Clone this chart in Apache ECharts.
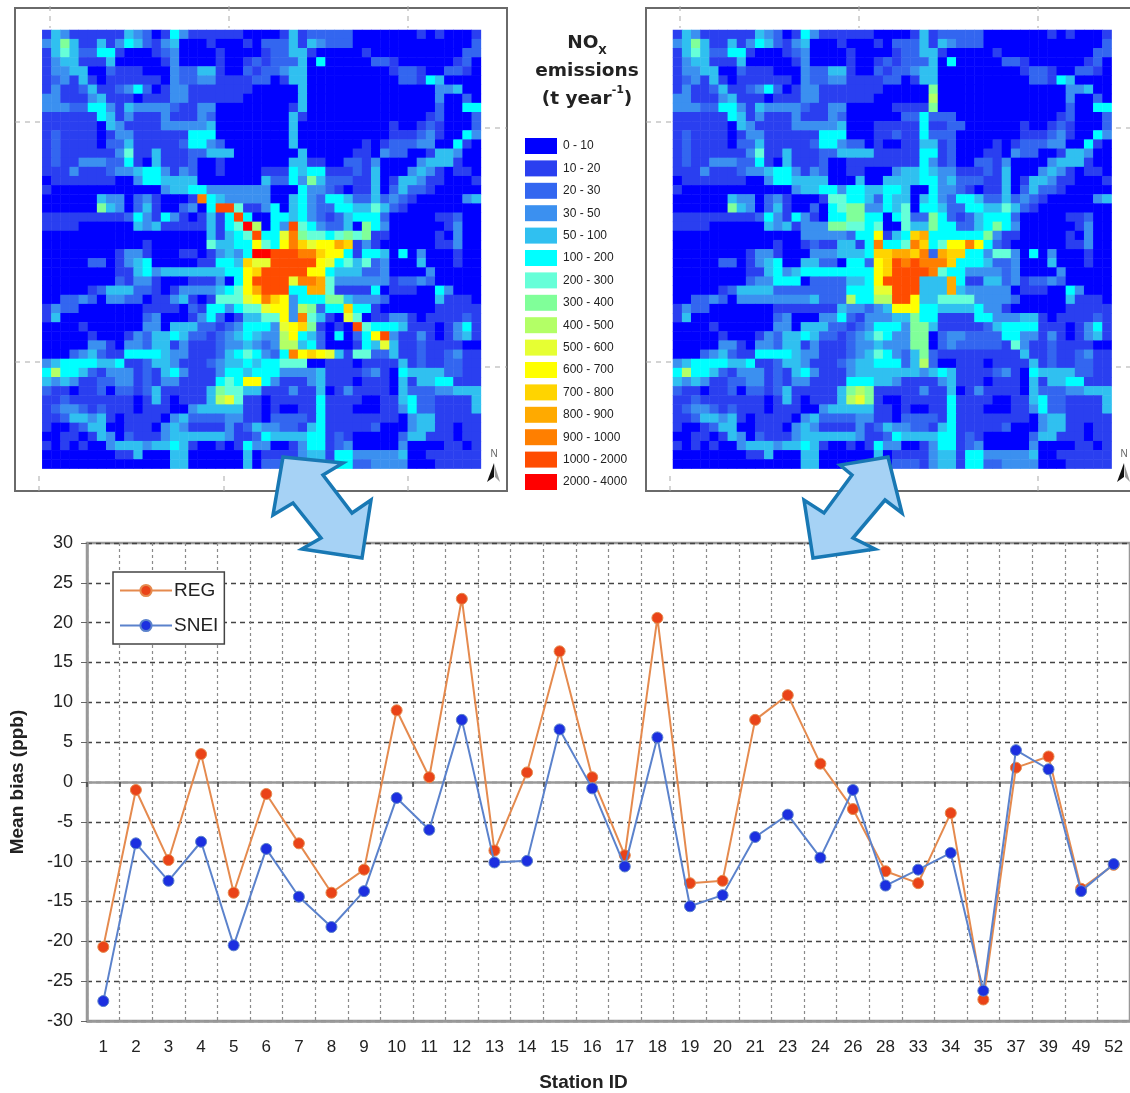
<!DOCTYPE html>
<html><head><meta charset="utf-8"><style>html,body{margin:0;padding:0;background:#fff;overflow:hidden}#c{width:1130px;height:1093px;filter:blur(0.6px)}</style>
<script src="https://cdn.jsdelivr.net/npm/echarts@6/dist/echarts.min.js"></script></head><body><div id="c"></div>
<script>
const stations=['1','2','3','4','5','6','7','8','9','10','11','12','13','14','15','16','17','18','19','20','21','23','24','26','28','33','34','35','37','39','49','52'];
const reg=[-20.7,-1.0,-9.8,3.5,-13.9,-1.5,-7.7,-13.9,-11.0,9.0,0.6,23.0,-8.6,1.2,16.4,0.6,-9.2,20.6,-12.7,-12.4,7.8,10.9,2.3,-3.4,-11.2,-12.7,-3.9,-27.3,1.8,3.2,-13.4,-10.4];
const snei=[-27.5,-7.7,-12.4,-7.5,-20.5,-8.4,-14.4,-18.2,-13.7,-2.0,-6.0,7.8,-10.1,-9.9,6.6,-0.8,-10.6,5.6,-15.6,-14.2,-6.9,-4.1,-9.5,-1.0,-13.0,-11.0,-8.9,-26.2,4.0,1.6,-13.7,-10.3];
const classLabels=['0 - 10','10 - 20','20 - 30','30 - 50','50 - 100','100 - 200','200 - 300','300 - 400','400 - 500','500 - 600','600 - 700','700 - 800','800 - 900','900 - 1000','1000 - 2000','2000 - 4000'];
const classColors=['#0000ff','#2a3ff0','#3366f0','#3b90f0','#30c0f0','#00ffff','#66ffd8','#80ff99','#b3ff66','#e6ff33','#ffff00','#ffd400','#ffaa00','#ff7f00','#ff4c00','#ff0000'];
// one hex digit per cell = emission class, rows top to bottom
const mapRegional=[
"1431111114 3201531111 1100001412 2222000000 01010001",
"3474114135 4213400010 0010222414 3222000000 00000002",
"1464225510 0012300001 0000122441 0000010000 00000022",
"1344111400 0001300001 0012122240 5000002210 00000120",
"1334400211 1000322441 0021223440 0000000012 21002210",
"1231410111 1110322331 1112201440 0000000002 21540000",
"1311241123 5201331111 1110000040 0000000000 00033400",
"3311134111 0111331111 1100000040 0000000000 00030020",
"3332255314 3333211330 0000000140 0000000000 00020055",
"1111115413 1113111320 0000000410 0000000000 00120002",
"1111110431 1113333340 0000000400 0000000010 01210002",
"1211110133 1111115550 0000000400 0000000011 12310053",
"1211110224 1111125532 0000000400 0000010122 23300510",
"1211111136 1141112244 4000000040 0000110322 00144300",
"1211333225 1041112001 0000000441 1002213000 03444100",
"1113111233 4553132001 0000111545 5111214000 34310110",
"0111111100 3554444000 0000422537 4222114014 43110001",
"1000000000 0003445533 3333300053 3210114024 22100000",
"0000004330 2310001d54 3333300453 2554224232 10000034",
"0000007430 241002305e e611350453 2255446421 00000000",
"1111111112 5315310141 5e50055453 2124555200 00011200",
"1111000000 4341111141 56f8053e65 3224075300 00001300",
"0000000000 0000000041 456e559d76 6567671100 00010300",
"0000000000 0100000064 455a65adb9 aacb131000 00011300",
"0000000013 3100011013 435ffeeedd baa5155405 03000100",
"0000022013 4500000115 54b99eeeee a956462300 04000100",
"0000000011 4534444444 55abeeeeea a544422300 00300000",
"0000000021 3310001113 05aeeee9dd c633333312 23200000",
"0000012444 2210133334 56aceee55c c611115011 10053000",
"0022320332 2011341016 669adba355 5774333200 00041110",
"1322000000 0111102155 35669aa387 255b551000 00011111",
"1400000000 0230001352 014466a3d6 4109601133 10111121",
"0000100000 0330444221 2355539ab7 1010e65554 11101351",
"0000010001 3244542212 3454338a54 205025ae31 13101341",
"0000033103 3244131112 3343238845 2000154941 12111100",
"0002342115 5554331112 4565325dab a941662241 12112311",
"3455554451 1244311123 4454556660 0111011114 12112211",
"5855421333 1214531113 5545553333 4111123105 44442211",
"4343112233 1213311115 65aa531113 4111011104 14455111",
"2110112022 1241111147 6644111311 4013111104 22233444",
"1121111111 0141011148 9611011111 5111100114 52211114",
"1233212111 0111003444 4411010011 5111000113 52211114",
"1124434101 1110342222 3311022221 5111111110 34411111",
"1001244001 1103431111 3124332214 5111112000 34411011",
"0011014302 1113444444 3112544445 5121000002 44111011",
"1010100344 4344541001 0153300135 5123000003 00001101",
"0000000011 4000440000 0040111134 4155333334 00111111",
"0000000000 0000440000 0040222134 4155223333 00011111"];
const mapSnei=[
"1431111114 3201531111 1100001412 2222000000 01010001",
"3474114135 4213400010 0010222414 3222000000 00000002",
"1464225510 0012300001 0000122441 0000010000 00000022",
"1344111400 0001300001 0012122240 5000002210 00000120",
"1334400211 1000322441 0021223440 0000000012 21002210",
"1231410111 1110322331 1112201440 0000000002 21540000",
"1311241123 5201331111 1110000070 0000000000 00033400",
"3311134111 0111331111 1100000080 0000000000 00030020",
"3332255314 3333211330 0000111170 0000000000 00020055",
"1111115413 1113111320 0000022522 2000000000 00120002",
"1111110431 1113333340 0011111511 2200000010 01210002",
"1211110133 1111115550 0011211522 2000000011 12310053",
"1211110224 1111125532 2010011441 2000010122 23300510",
"1211111136 1141112244 4411111551 2000110322 00144300",
"1211333225 1041112001 1111111531 2002213000 03444100",
"1113111233 4553132001 1000344543 3111214000 34310110",
"0111111100 3554444000 4004444553 4222114014 43110001",
"1000000000 0003445535 5445540053 3210114024 22100000",
"0000004330 2310001665 5425440453 2554224232 10000034",
"0000007430 2410020567 7335460554 2255446421 00000000",
"1111111112 5315310557 7550562275 2124555200 00011200",
"1111000000 4341333776 6560064475 5224575300 00001300",
"0000000000 0000333332 55a145bc55 5555731100 00010300",
"0000000000 0100121144 15d556db56 aada521000 00011300",
"0000000013 3100033344 45bbccbd2c bb55366305 03000100",
"0000022013 4500442205 52abededdd b555422300 04000100",
"0000000011 4534555555 55abeeeed6 5533332300 00300000",
"0000000023 3555022224 45aeeee444 c511442312 23200000",
"0000012444 4222222225 5599eee444 c433333011 10053000",
"0022320333 3333342228 5588eea446 6663333200 00041110",
"1322000000 0111111143 3234aaa554 4445331000 00011111",
"1400000000 0230003352 1333447551 1115533344 10111121",
"0000100000 0330444221 2355537741 1111245555 11101351",
"0000010001 3244542212 3465337702 3322225533 13101341",
"0000033103 3244131112 3343337702 3222221631 12111100",
"0002342115 5554331112 3465324721 1111111141 12112311",
"3455554451 1244311123 4455524820 0111011114 12112211",
"5855421333 1214531113 4444444345 4111123105 44442211",
"4343112233 1213311115 5544311113 4111011104 14455111",
"2110112022 1241111147 8711111311 4013111104 22233444",
"1121111111 0141011148 9710011111 5111100114 52211114",
"1233212111 0111003444 4411010011 5111000113 52211114",
"1124434101 1110342222 3311022221 5111111110 34411111",
"1001244001 1103431111 3124332214 5111112000 34411011",
"0011014302 1113444444 3112544445 5121000002 44111011",
"1010100344 4344541001 0153300135 5123000003 00001101",
"0000000011 4000440000 0040111134 4155333334 00111111",
"0000000000 0000440000 0040222134 4155223333 00011111"];

function cells(rows){const out=[];rows.forEach((r,y)=>{r.replace(/ /g,'').split('').forEach((ch,x)=>out.push([x,y,parseInt(ch,16)]));});return out;}
const idx=[...Array(48).keys()].map(String);
const hidden={show:false};
function catAxis(grid,inv){return {type:'category',gridIndex:grid,data:idx,inverse:!!inv,axisLine:hidden,axisTick:hidden,axisLabel:hidden,splitLine:hidden};}

const frame={stroke:'#6a6a6a',fill:'none',lineWidth:2};
const g=[];
function rect(x,y,w,h){g.push({type:'rect',shape:{x,y,width:w,height:h},style:frame,z:1});}
function dash(x1,y1,x2,y2){g.push({type:'line',shape:{x1,y1,x2,y2},style:{stroke:'#aaa',lineWidth:1,lineDash:[5,5]},z:1});}
rect(15,8,492,483);rect(646,8,500,483);
[50,229,408,680,859,1038].forEach(x=>dash(x,6,x,28));
[39,224,408,670,855,1038].forEach(x=>dash(x,491,x,474));
[122,362].forEach(y=>{dash(15,y,42,y);dash(646,y,673,y);});
[128,367].forEach(y=>{dash(485,y,507,y);dash(1116,y,1130,y);});
function north(x){
  g.push({type:'text',style:{x:x+7,y:449,text:'N',fontSize:10,fontFamily:'Liberation Sans',fill:'#666',textAlign:'center'},z:5});
  g.push({type:'polygon',shape:{points:[[x+7,463],[x+13,482],[x+8,477]]},style:{fill:'#999'},z:5});
  g.push({type:'polygon',shape:{points:[[x+7,463],[x,482],[x+7,477]]},style:{fill:'#111'},z:5});
}
north(487);north(1117);
const arrowStyle={fill:'#a6d2f5',stroke:'#1878b4',lineWidth:3.5,lineJoin:'miter'};
g.push({type:'polygon',shape:{points:[[283,457],[343,463],[323,475],[352,513],[371,500],[362,558],[302,549],[321,538],[293,503],[273,515]]},style:arrowStyle,z:10});
g.push({type:'polygon',shape:{points:[[888,457],[902,513],[885,500],[853,538],[875,549],[813,558],[804,500],[824,513],[852,475],[840,465]]},style:arrowStyle,z:10});

const option={
 animation:false,backgroundColor:'#fff',
 textStyle:{fontFamily:'Liberation Sans'},
 title:{left:582,top:24,textAlign:'center',text:'{b|NO}{s|X}\n{b|emissions}\n{b|(t year}{u|-1}{b|)}',
   textStyle:{rich:{
     b:{fontFamily:'DejaVu Sans',fontWeight:'bold',fontSize:18.5,lineHeight:28,color:'#222'},
     s:{fontFamily:'DejaVu Sans',fontWeight:'bold',fontSize:11,lineHeight:28,verticalAlign:'bottom',color:'#222'},
     u:{fontFamily:'DejaVu Sans',fontWeight:'bold',fontSize:11,lineHeight:28,verticalAlign:'top',color:'#222'}}}},
 grid:[
  {left:42.3,top:30,width:438.6,height:438.6},
  {left:673,top:30,width:438.6,height:438.6},
  {left:85,top:543,width:1046.4,height:479,show:true,borderColor:'#999',borderWidth:2.5,backgroundColor:'transparent'}],
 xAxis:[catAxis(0),catAxis(1),
  {type:'category',gridIndex:2,data:stations,position:'bottom',axisLine:{onZero:false,lineStyle:{color:'#999',width:2.5}},axisTick:hidden,
   axisLabel:{interval:0,fontSize:17,color:'#222',margin:18},
   splitLine:{show:true,interval:0,lineStyle:{color:'#8a8a8a',type:[3,3],width:1.2}},
   name:'Station ID',nameLocation:'middle',nameGap:52,nameTextStyle:{fontSize:19,fontWeight:'bold',color:'#222',padding:[0,50,0,0]}},
  {type:'category',gridIndex:2,data:stations,position:'bottom',axisLine:{onZero:true,lineStyle:{color:'#999',width:2.5}},
   axisTick:{show:true,length:5,lineStyle:{color:'#444',width:1.5}},axisLabel:hidden,splitLine:hidden}],
 yAxis:[catAxis(0,true),catAxis(1,true),
  {type:'value',gridIndex:2,min:-30,max:30,interval:5,axisLine:{show:true,onZero:false,lineStyle:{color:'#999',width:2.5}},
   axisTick:{show:true,length:6,lineStyle:{color:'#666'}},axisLabel:{fontSize:18,color:'#222',margin:14},
   splitLine:{show:true,lineStyle:{color:'#444',type:[5,4],width:1.3}},
   name:'Mean bias (ppb)',nameLocation:'middle',nameGap:60,nameTextStyle:{fontSize:19,fontWeight:'bold',color:'#222'}}],
 visualMap:{type:'piecewise',seriesIndex:[0,1],dimension:2,left:510,top:123,orient:'vertical',inverse:true,align:'left',
   itemWidth:32,itemHeight:16,itemGap:6.4,itemSymbol:'rect',textGap:6,hoverLink:false,selectedMode:false,
   textStyle:{fontSize:12,color:'#222',fontFamily:'Liberation Sans'},
   pieces:classLabels.map((label,i)=>({value:i,label,color:classColors[i]}))},
 legend:{data:['REG','SNEI'],orient:'vertical',left:113,top:572,padding:[9,6,9,6],itemGap:16,itemWidth:52,itemHeight:14,
   backgroundColor:'#fff',borderColor:'#444',borderWidth:1.5,textStyle:{fontSize:19,color:'#222',padding:[0,0,0,-3]}},
 series:[
  {type:'heatmap',name:'Regional',xAxisIndex:0,yAxisIndex:0,data:cells(mapRegional),silent:true,progressive:0,itemStyle:{borderWidth:0}},
  {type:'heatmap',name:'SNEI map',xAxisIndex:1,yAxisIndex:1,data:cells(mapSnei),silent:true,progressive:0,itemStyle:{borderWidth:0}},
  {type:'line',name:'REG',xAxisIndex:2,yAxisIndex:2,data:reg,symbol:'circle',symbolSize:11,z:5,
   lineStyle:{color:'#e58a4e',width:2},itemStyle:{color:'#ea4318',borderColor:'#e58a4e',borderWidth:1}},
  {type:'line',name:'SNEI',xAxisIndex:2,yAxisIndex:2,data:snei,symbol:'circle',symbolSize:11,z:6,
   lineStyle:{color:'#5b82cc',width:2},itemStyle:{color:'#1c2fe0',borderColor:'#5b82cc',borderWidth:1}}],
 graphic:{elements:g}
};
echarts.init(document.getElementById('c'),null,{renderer:'canvas'}).setOption(option);
</script></body></html>
